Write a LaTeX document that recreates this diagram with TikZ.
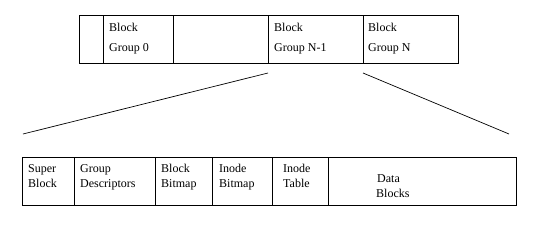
\documentclass[tikz,border=0pt]{standalone}
\usepackage{fontspec}
\setmainfont{Liberation Serif}
\begin{document}
\begin{tikzpicture}[x=1pt,y=-1pt,
  cell/.style={draw,line width=0.9pt},
  lbl/.style={anchor=base west,inner sep=0pt,font=\fontsize{12}{14}\selectfont},
  link/.style={line width=0.7pt}]
\useasboundingbox (0,0) rectangle (552,228);
% top bar
\draw[cell] (79,15) rectangle (458,63);
\foreach \x in {103,173,268,363} \draw[cell] (\x,15) -- (\x,63);
\node[lbl] (bg0a) at (109,31) {Block};
\node[lbl] (bg0b) at (109,51) {Group 0};
\node[lbl] (bgn1a) at (274,31) {Block};
\node[lbl] (bgn1b) at (274,51) {Group N-1};
\node[lbl] (bgna) at (368,31) {Block};
\node[lbl] (bgnb) at (368,51) {Group N};
% bottom bar
\draw[cell] (22,157) rectangle (516,205);
\foreach \x in {74,155,212,272,328} \draw[cell] (\x,157) -- (\x,205);
\node[lbl] (sb1) at (28,172) {Super};
\node[lbl] (sb2) at (28,187) {Block};
\node[lbl] (gd1) at (80,172) {Group};
\node[lbl] (gd2) at (80,187) {Descriptors};
\node[lbl] (bb1) at (161,172) {Block};
\node[lbl] (bb2) at (161,187) {Bitmap};
\node[lbl] (ib1) at (219,172) {Inode};
\node[lbl] (ib2) at (219,187) {Bitmap};
\node[lbl] (it1) at (283,172) {Inode};
\node[lbl] (it2) at (283,187) {Table};
\node[lbl] (db1) at (377,182) {Data};
\node[lbl] (db2) at (376,197) {Blocks};
% connectors
\coordinate (la) at (268,73);
\coordinate (lb) at (23,134);
\coordinate (ra) at (363,73);
\coordinate (rb) at (509,134);
\draw[link] (la) -- (lb);
\draw[link] (ra) -- (rb);
\end{tikzpicture}
\end{document}
